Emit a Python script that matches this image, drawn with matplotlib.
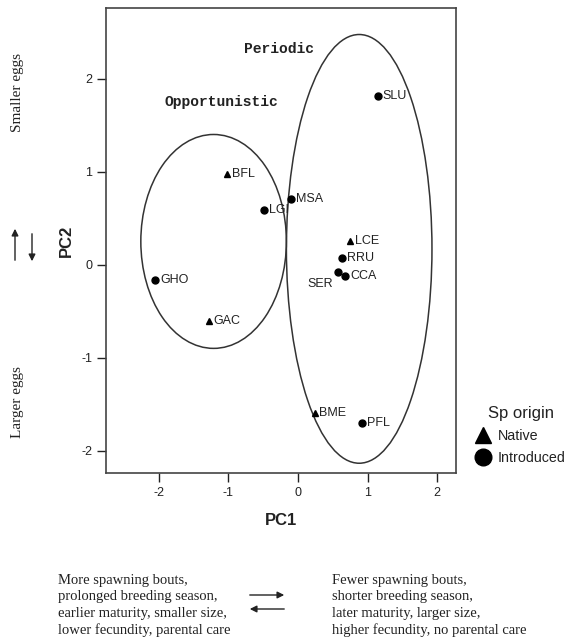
import matplotlib
matplotlib.use("Agg")
import matplotlib.pyplot as plt
from matplotlib.patches import Ellipse
from matplotlib.lines import Line2D

plt.rcParams['axes.unicode_minus'] = False

# species scores on the first two principal components
species = ['BFL', 'MSA', 'LGI', 'LCE', 'RRU', 'SER', 'CCA', 'GHO', 'GAC', 'BME', 'PFL', 'SLU']
pc1 = [-1.02, -0.10, -0.48, 0.75, 0.63, 0.57, 0.68, -2.05, -1.28, 0.24, 0.92, 1.15]
pc2 = [0.97, 0.71, 0.59, 0.26, 0.07, -0.08, -0.12, -0.17, -0.61, -1.59, -1.70, 1.81]
origin = ['Native', 'Introduced', 'Introduced', 'Native', 'Introduced', 'Introduced',
          'Introduced', 'Introduced', 'Native', 'Native', 'Introduced', 'Introduced']

# strategy groups: (centre x, centre y, width, height)
groups = ['Opportunistic', 'Periodic']
group_ellipses = [(-1.21, 0.25, 2.09, 2.30), (0.88, 0.17, 2.09, 4.61)]
group_labels_xy = [(-1.10, 1.75), (-0.27, 2.32)]

ticks = [-2, -1, 0, 1, 2]
col = '#222222'

fig = plt.figure(figsize=(5.68, 6.42), dpi=100)
ax = fig.add_axes([106 / 568, 1 - 473 / 642, 350 / 568, 465 / 642])

for (cx, cy, w, h) in group_ellipses:
    ax.add_patch(Ellipse((cx, cy), w, h, fill=False, ec='#333333', lw=1.1))

for name, (gx, gy) in zip(groups, group_labels_xy):
    ax.text(gx, gy, name, family='Liberation Mono', fontweight='bold', fontsize=10.5,
            ha='center', va='center', color=col)

markers = {'Native': '^', 'Introduced': 'o'}
for s, x, y, o in zip(species, pc1, pc2, origin):
    ax.plot(x, y, marker=markers[o], color='black', ms=5 if o == 'Introduced' else 4.5,
            ls='none')
    if s == 'SER':
        ax.annotate(s, (x, y), xytext=(-3, -8.5), textcoords='offset points',
                    ha='right', va='center', fontsize=9, family='Liberation Sans', color=col)
    else:
        ax.annotate(s, (x, y), xytext=(3.5, 0), textcoords='offset points',
                    ha='left', va='center', fontsize=9, family='Liberation Sans', color=col)

ax.set_xlim(-2.755, 2.27)
ax.set_ylim(-2.24, 2.76)
ax.set_xticks(ticks)
ax.set_yticks(ticks)
ax.tick_params(direction='out', length=6.5, width=1, labelsize=9, colors=col)
for lab in ax.get_xticklabels() + ax.get_yticklabels():
    lab.set_family('Liberation Sans')
for sp in ax.spines.values():
    sp.set_linewidth(1.2)
    sp.set_color('#444444')

ax.set_xlabel('PC1', fontsize=12, fontweight='bold', family='Liberation Sans', color=col,
              labelpad=10)
ax.set_ylabel('PC2', fontsize=12, fontweight='bold', family='Liberation Sans', color=col,
              labelpad=5)

# legend for species origin
handles = [Line2D([], [], marker='^', color='black', ls='none', ms=11),
           Line2D([], [], marker='o', color='black', ls='none', ms=12)]
leg = fig.legend(handles, ['Native', 'Introduced'], title='Sp origin',
                 loc='upper left', bbox_to_anchor=(476 / 568, 1 - 406 / 642),
                 frameon=False, title_fontsize=12, handlelength=1.0,
                 handletextpad=0.5, labelspacing=0.55, borderpad=0, borderaxespad=0,
                 prop={'family': 'Liberation Sans', 'size': 10.3})
leg.get_title().set_family('Liberation Sans')
for t in leg.get_texts() + [leg.get_title()]:
    t.set_color(col)

# left side explanation of PC2
fig.text(18 / 568, 1 - 92 / 642, 'Smaller eggs', rotation=90, ha='center', va='center',
         family='Liberation Serif', fontsize=11, color=col)
fig.text(18 / 568, 1 - 402 / 642, 'Larger eggs', rotation=90, ha='center', va='center',
         family='Liberation Serif', fontsize=11, color=col)
arr = dict(arrowstyle='-|>', color=col, lw=1.0, mutation_scale=10)
fig.add_artist(plt.Annotation('', xy=(15 / 568, 1 - 226 / 642), xytext=(15 / 568, 1 - 263 / 642),
                              xycoords='figure fraction', arrowprops=arr))
fig.add_artist(plt.Annotation('', xy=(32 / 568, 1 - 264 / 642), xytext=(32 / 568, 1 - 231 / 642),
                              xycoords='figure fraction', arrowprops=arr))

# bottom explanation of PC1
left_txt = ('More spawning bouts,\nprolonged breeding season,\n'
            'earlier maturity, smaller size,\nlower fecundity, parental care')
right_txt = ('Fewer spawning bouts,\nshorter breeding season,\n'
             'later maturity, larger size,\nhigher fecundity, no parental care')
fig.text(58 / 568, 1 - 574 / 642, left_txt, ha='left', va='top', family='Liberation Serif',
         fontsize=10.5, linespacing=1.33, color=col)
fig.text(332 / 568, 1 - 574 / 642, right_txt, ha='left', va='top', family='Liberation Serif',
         fontsize=10.5, linespacing=1.33, color=col)
fig.add_artist(plt.Annotation('', xy=(287 / 568, 1 - 595 / 642), xytext=(247 / 568, 1 - 595 / 642),
                              xycoords='figure fraction', arrowprops=arr))
fig.add_artist(plt.Annotation('', xy=(247 / 568, 1 - 609 / 642), xytext=(287 / 568, 1 - 609 / 642),
                              xycoords='figure fraction', arrowprops=arr))

fig.savefig('out.png', dpi=100)
